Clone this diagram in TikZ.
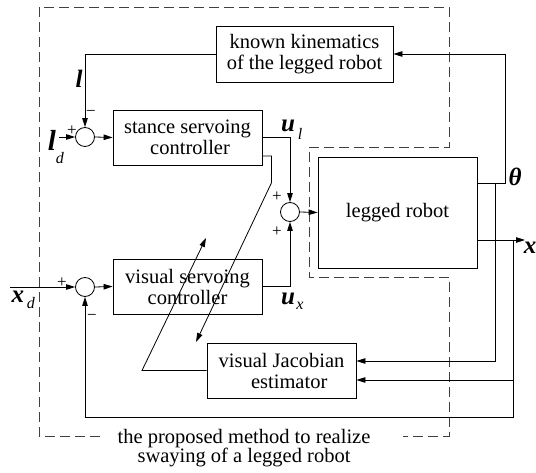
\documentclass[tikz,border=0pt]{standalone}
\usepackage{fontspec}
\setmainfont{Liberation Serif}
\usetikzlibrary{arrows.meta,calc}
\begin{document}
\begin{tikzpicture}[x=1pt,y=-1pt,
  every node/.style={font=\fontsize{20.5}{21}\selectfont},
  blk/.style={draw,line width=0.8pt,align=center,inner sep=0pt},
  sumc/.style={draw,line width=0.8pt,circle,minimum size=19pt,inner sep=0pt},
  wire/.style={line width=0.8pt},
  arr/.style={wire,-{Triangle[length=9pt,width=5.5pt]}},
  bnd/.style={line width=0.8pt,dash pattern=on 10pt off 5pt,draw=black!75},
  sig/.style={font=\fontsize{25}{25}\selectfont\bfseries\itshape,inner sep=0pt},
  sub/.style={font=\fontsize{16}{16}\selectfont\itshape,inner sep=0pt},
  sgn/.style={font=\fontsize{17}{17}\selectfont,inner sep=0pt}]
\useasboundingbox (0,0) rectangle (536,473);
% dashed boundary
\draw[bnd] (100,436) -- (39,436) -- (39,7) -- (449,7) -- (449,147) -- (309,147) -- (309,277) -- (449,277) -- (449,436) -- (403,436);
\node[font=\fontsize{20.5}{16.5}\selectfont,align=center,inner sep=0pt] (cap) at (244,448) {the proposed method to realize\\swaying of a legged robot};
% blocks
\node[blk,minimum width=177pt,minimum height=56pt] (kin) at (304.5,54) {known kinematics\\of the legged robot};
\node[blk,minimum width=149pt,minimum height=55pt] (stance) at (187.5,137.5) {stance servoing\\\ controller};
\node[blk,minimum width=149pt,minimum height=55pt] (vis) at (187.5,286.5) {visual servoing\\controller};
\node[blk,minimum width=149pt,minimum height=55pt] (jac) at (281.5,370.5) {visual Jacobian\\\ \ \ estimator};
\node[blk,minimum width=159pt,minimum height=111pt] (robot) at (397.5,212.5) {legged robot};
\node[sumc] (s1) at (85,137) {};
\node[sumc] (s2) at (290,212) {};
\node[sumc] (s3) at (85,287) {};
% coordinates
\coordinate (ldin) at (59,137);
\coordinate (xin) at (10,287);
\coordinate (a1) at (196,342);
\coordinate (a2) at (206,238);
\coordinate (th) at (477,183);
\coordinate (xo) at (477,240);
\coordinate (xend) at (525,240);
% connectors
\draw[arr] (kin.west) -| (s1.north);
\draw[arr] (ldin) -- (s1.west);
\draw[arr] (s1.east) -- (stance.west);
\draw[arr] (stance.east) -| (s2.north);
\draw[arr] ($(stance.east)+(0,18.5)$) -- ++(9,0) -- ++(0,27) -- (a1);
\draw[arr] (jac.west) -- (142,370.5) -- (a2);
\draw[arr] (vis.east) -| (s2.south);
\draw[arr] (s2.east) -- (robot.west);
\draw[arr] (xin) -- (s3.west);
\draw[arr] (s3.east) -- (vis.west);
\draw[arr] (th) -- (505,183) |- (kin.east);
\draw[arr] (495,183) |- ($(jac.east)+(0,-9.5)$);
\draw[arr] (xo) -- (xend);
\draw[arr] (513,240) |- ($(jac.east)+(0,9.5)$);
\draw[arr] (513,240) |- (85,417) -- (s3.south);
% labels
\node[sig] (lbl) at (79,79) {l};
\node[sig,font=\fontsize{29}{29}\selectfont\bfseries\itshape] (ldl) at (52,140) {l};
\node[sub] (ldd) at (60,158) {d};
\node[sig] (ul) at (288,126) {u};
\node[sub] (ull) at (300,134) {l};
\node[sig] (ux) at (288,299) {u};
\node[sub] (uxx) at (300,306) {x};
\node[sig] (xd) at (18,297) {x};
\node[sub] (xdd) at (31,303) {d};
\node[sig] (tht) at (515,177) {θ};
\node[sig] (xl) at (530,248) {x};
\node[sgn] (p1) at (72,131) {+};
\node[sgn] (m1) at (91,113) {−};
\node[sgn] (p2) at (277,197) {+};
\node[sgn] (p3) at (277,232) {+};
\node[sgn] (p4) at (62,283) {+};
\node[sgn] (m3) at (92,317) {−};
\end{tikzpicture}
\end{document}
